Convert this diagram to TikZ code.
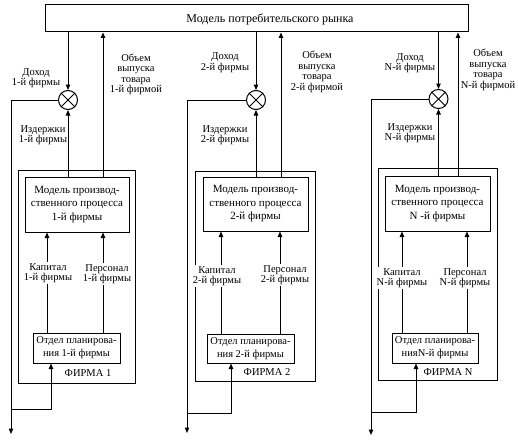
\documentclass[tikz,border=0pt]{standalone}
\usepackage{fontspec}
\setmainfont{Liberation Serif}
\usetikzlibrary{arrows.meta}
\begin{document}
\begin{tikzpicture}[x=1pt,y=-1pt,
  >={Triangle[length=5.5pt,width=4.5pt]},
  ln/.style={line width=1pt},
  box/.style={draw,line width=1pt,inner sep=0pt},
  lbl/.style={font=\fontsize{10.5}{10.5}\selectfont,align=center,inner sep=0pt},
  boxtxt/.style={font=\fontsize{11}{13.5}\selectfont,align=center,inner sep=0pt},
  plantxt/.style={font=\fontsize{10.5}{13}\selectfont,align=center,inner sep=0pt},
  mix/.style={draw,circle,line width=1pt,minimum size=19pt,inner sep=0pt}]
\useasboundingbox (0,0) rectangle (518,444);

% market
\node[box,minimum width=423,minimum height=27] (market) at (256.5,18.5) {};
\node[font=\fontsize{12}{13}\selectfont,inner sep=0pt] (markettxt) at (270,19) {Модель потребительского рынка};

% ---------------- Firm 1
\node[box,minimum width=117,minimum height=213] (outer1) at (76.5,276.5) {};
\node[box,boxtxt,minimum width=104,minimum height=55] (model1) at (77,204.5) {Модель производ-\\ственного процесса\\1-й фирмы};
\node[box,plantxt,minimum width=87,minimum height=30] (plan1) at (76.5,348) {Отдел планирова-\\ния 1-й фирмы};
\node[mix] (circ1) at (68,100) {};
\draw[ln] (circ1.north west) -- (circ1.south east) (circ1.north east) -- (circ1.south west);
\node[lbl] (firm1) at (88,373) {ФИРМА 1};
\coordinate (v1) at (103,0);
\coordinate (k1) at (47,0);
\coordinate (p1) at (103,0);
\coordinate (d1) at (11,434);
\coordinate (b1) at (51,409);
\draw[ln,->] (circ1 |- market.south) -- (circ1.north);
\draw[ln,->] (circ1 |- model1.north) -- (circ1.south);
\draw[ln,->] (v1 |- model1.north) -- (v1 |- market.south);
\draw[ln,->] (circ1.west) -| (d1);
\draw[ln,->] (d1 |- b1) -- (b1) -- (b1 |- plan1.south);
\draw[ln,->] (k1 |- plan1.north) -- (k1 |- model1.south);
\draw[ln,->] (p1 |- plan1.north) -- (p1 |- model1.south);
\node[lbl] (inc1) at (36,78) {Доход\\1-й фирмы};
\node[lbl] (vol1) at (136,74.5) {Объем\\выпуска\\товара\\1-й фирмой};
\node[lbl] (cost1) at (43,135) {Издержки\\1-й фирмы};
\node[lbl,fill=white,inner sep=1pt] (cap1) at (48,273) {Капитал\\1-й фирмы};
\node[lbl,fill=white,inner sep=1pt] (per1) at (107,274) {Персонал\\1-й фирмы};

% ---------------- Firm 2
\node[box,minimum width=120,minimum height=210] (outer2) at (255,276) {};
\node[box,boxtxt,minimum width=105,minimum height=54] (model2) at (255.5,204) {Модель производ-\\ственного процесса\\2-й фирмы};
\node[box,plantxt,minimum width=87,minimum height=29] (plan2) at (250.5,348.5) {Отдел планирова-\\ния 2-й фирмы};
\node[mix] (circ2) at (256,100) {};
\draw[ln] (circ2.north west) -- (circ2.south east) (circ2.north east) -- (circ2.south west);
\node[lbl] (firm2) at (267,372) {ФИРМА 2};
\coordinate (v2) at (281,0);
\coordinate (k2) at (221,0);
\coordinate (p2) at (280,0);
\coordinate (d2) at (187,433);
\coordinate (b2) at (231,413);
\draw[ln,->] (circ2 |- market.south) -- (circ2.north);
\draw[ln,->] (circ2 |- model2.north) -- (circ2.south);
\draw[ln,->] (v2 |- model2.north) -- (v2 |- market.south);
\draw[ln,->] (circ2.west) -| (d2);
\draw[ln,->] (d2 |- b2) -- (b2) -- (b2 |- plan2.south);
\draw[ln,->] (k2 |- plan2.north) -- (k2 |- model2.south);
\draw[ln,->] (p2 |- plan2.north) -- (p2 |- model2.south);
\node[lbl] (inc2) at (225,62.5) {Доход\\2-й фирмы};
\node[lbl] (vol2) at (317,72) {Объем\\выпуска\\товара\\2-й фирмой};
\node[lbl] (cost2) at (225,135) {Издержки\\2-й фирмы};
\node[lbl,fill=white,inner sep=1pt] (cap2) at (217,276) {Капитал\\2-й фирмы};
\node[lbl,fill=white,inner sep=1pt] (per2) at (285,275) {Персонал\\2-й фирмы};

% ---------------- Firm N
\node[box,minimum width=119,minimum height=212] (outer3) at (437.5,274) {};
\node[box,boxtxt,minimum width=105,minimum height=55] (model3) at (437.5,203.5) {Модель производ-\\ственного процесса\\N -й фирмы};
\node[box,plantxt,minimum width=86,minimum height=30] (plan3) at (435,348) {Отдел планирова-\\нияN-й фирмы};
\node[mix] (circ3) at (438.5,99) {};
\draw[ln] (circ3.north west) -- (circ3.south east) (circ3.north east) -- (circ3.south west);
\node[lbl] (firm3) at (448,372) {ФИРМА N};
\coordinate (v3) at (458,0);
\coordinate (k3) at (402,0);
\coordinate (p3) at (467,0);
\coordinate (d3) at (371,435);
\coordinate (b3) at (416,412);
\draw[ln,->] (circ3 |- market.south) -- (circ3.north);
\draw[ln,->] (circ3 |- model3.north) -- (circ3.south);
\draw[ln,->] (v3 |- model3.north) -- (v3 |- market.south);
\draw[ln,->] (circ3.west) -| (d3);
\draw[ln,->] (d3 |- b3) -- (b3) -- (b3 |- plan3.south);
\draw[ln,->] (k3 |- plan3.north) -- (k3 |- model3.south);
\draw[ln,->] (p3 |- plan3.north) -- (p3 |- model3.south);
\node[lbl] (inc3) at (410,63) {Доход\\N-й фирмы};
\node[lbl] (vol3) at (488,70) {Объем\\выпуска\\товара\\N-й фирмой};
\node[lbl] (cost3) at (410,133) {Издержки\\N-й фирмы};
\node[lbl,fill=white,inner sep=1pt] (cap3) at (402,278) {Капитал\\N-й фирмы};
\node[lbl,fill=white,inner sep=1pt] (per3) at (465,278) {Персонал\\N-й фирмы};
\end{tikzpicture}
\end{document}
